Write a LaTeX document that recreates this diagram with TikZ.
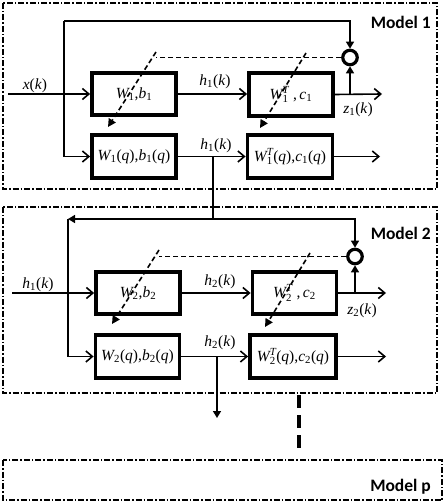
\documentclass[tikz,border=0pt]{standalone}
\usepackage{amsmath}
\usepackage{fontspec}
\setmainfont{Liberation Serif}
\newfontfamily\lblfont{Carlito}
\usetikzlibrary{arrows.meta}
\newcommand\mi[1]{\text{\itshape #1}}
\newcommand\mr[1]{\text{#1}}
\newcommand\pk[1]{\text{(\textit{#1})}}
\begin{document}
\begin{tikzpicture}[x=1pt,y=-1pt,
  frame/.style={draw, line width=1.2pt, dash pattern=on 6pt off 2pt on 1.5pt off 2pt},
  blk/.style={draw, line width=3.8pt, minimum width=84pt, minimum height=42.5pt, inner sep=0pt, font=\fontsize{15.5}{17}\selectfont},
  ln/.style={line width=1.6pt},
  oarr/.style={ln, -{Straight Barb[length=6.5pt,width=11pt,line width=1.6pt]}},
  farr/.style={ln, -{Triangle[length=7pt,width=8pt]}},
  dsh/.style={line width=1.6pt, dash pattern=on 5pt off 3pt},
  dsharr/.style={dsh, -{Triangle[length=8pt,width=8pt]}},
  sumc/.style={circle, draw, line width=3.2pt, minimum size=14.5pt, inner sep=0pt},
  lbl/.style={font=\fontsize{15.5}{17}\selectfont, inner sep=0pt},
  mlbl/.style={font=\lblfont\bfseries\fontsize{17.5}{20}\selectfont, anchor=east, inner sep=0pt}
]
\useasboundingbox (0,0) rectangle (444,502);

% frames
\draw[frame] (3,3) rectangle (437,189);
\draw[frame] (3,207) rectangle (437,393);
\draw[frame] (3,460) rectangle (442,500);
\node[mlbl] (M1) at (431,22) {Model 1};
\node[mlbl] (M2) at (431,233) {Model 2};
\node[mlbl] (Mp) at (431,487) {Model p};

% ---------- Model 1 ----------
\node[blk] (A1) at (134,94) {$\mi{W}_{\mr1}\mr{,}\mi{b}_{\mr1}$};
\node[blk] (B1) at (291,94.5) {$\mi{W}_{\mr1}^{\mi{T}}\mr{ ,\,}\mi{c}_{\mr1}$};
\node[blk] (C1) at (134,156.5) {$\mi{W}_{\mr1}\pk{q}\mr{,}\mi{b}_{\mr1}\pk{q}$};
\node[blk, minimum width=85pt] (D1) at (290,156.5) {$\mi{W}_{\mr1}^{\mi{T}}\pk{q}\mr{,}\mi{c}_{\mr1}\pk{q}$};
\node[sumc] (S1) at (350,57.5) {};

\coordinate (in1) at (8,94);
\coordinate (t1) at (64,21);
\coordinate (o1) at (382,94);
\coordinate (o1b) at (380,156.5);
\coordinate (dA1) at (156,52);
\coordinate (eA1) at (108,127);
\coordinate (dB1) at (306,53);
\coordinate (eB1) at (260,128);
\coordinate (h1) at (213,219);

\draw[oarr] (in1) -- (A1.west);
\draw[oarr] (t1) |- (C1.west);
\draw[farr] (t1) -| (S1.north);
\draw[oarr] (A1.east) -- (A1.east -| B1.west);
\draw[oarr] (B1.east) -- (o1);
\draw[farr] (S1 |- B1.east) -- (S1.south);
\draw[dsh] (S1.west) -- (S1.west -| dA1);
\draw[dsharr] (dA1) -- (eA1);
\draw[dsharr] (dB1) -- (eB1);
\draw[oarr] (C1.east) -- (C1.east -| D1.west);
\draw[oarr] (D1.east) -- (o1b);
\draw[ln] (C1.east -| h1) -- (h1);

\node[lbl] (lx) at (35,86) {$\mi{x}\pk{k}$};
\node[lbl] (lh1a) at (215,82) {$\mi{h}_{\mr1}\pk{k}$};
\node[lbl] (lz1) at (358,110) {$\mi{z}_{\mr1}\pk{k}$};
\node[lbl] (lh1b) at (216,146) {$\mi{h}_{\mr1}\pk{k}$};

% ---------- Model 2 ----------
\node[blk] (A2) at (138,293) {$\mi{W}_{\mr2}\mr{,}\mi{b}_{\mr2}$};
\node[blk] (B2) at (294.5,293) {$\mi{W}_{\mr2}^{\mi{T}}\mr{ ,\,}\mi{c}_{\mr2}$};
\node[blk] (C2) at (137.5,356.5) {$\mi{W}_{\mr2}\pk{q}\mr{,}\mi{b}_{\mr2}\pk{q}$};
\node[blk, minimum width=86pt] (D2) at (293,356.5) {$\mi{W}_{\mr2}^{\mi{T}}\pk{q}\mr{,}\mi{c}_{\mr2}\pk{q}$};
\node[sumc] (S2) at (355,256.5) {};

\coordinate (in2) at (12,293);
\coordinate (t2) at (68,219);
\coordinate (o2) at (386,293);
\coordinate (o2b) at (386,356.5);
\coordinate (dA2) at (159,250);
\coordinate (eA2) at (112,324);
\coordinate (dB2) at (310,253);
\coordinate (eB2) at (265,327);
\coordinate (h2) at (217,418);
\coordinate (p1) at (299,395);
\coordinate (p2) at (299,452);

\draw[farr] (h1) -- (t2);
\draw[oarr] (t2) |- (C2.west);
\draw[farr] (h1) -| (S2.north);
\draw[oarr] (in2) -- (A2.west);
\draw[oarr] (A2.east) -- (A2.east -| B2.west);
\draw[oarr] (B2.east) -- (o2);
\draw[farr] (S2 |- B2.east) -- (S2.south);
\draw[dsh] (S2.west) -- (S2.west -| dA2);
\draw[dsharr] (dA2) -- (eA2);
\draw[dsharr] (dB2) -- (eB2);
\draw[oarr] (C2.east) -- (C2.east -| D2.west);
\draw[oarr] (D2.east) -- (o2b);
\draw[farr] (C2.east -| h2) -- (h2);
\draw[line width=4pt, dash pattern=on 13pt off 7pt] (p1) -- (p2);

\node[lbl] (lh1c) at (38,285) {$\mi{h}_{\mr1}\pk{k}$};
\node[lbl] (lh2a) at (220,282) {$\mi{h}_{\mr2}\pk{k}$};
\node[lbl] (lz2) at (362,311) {$\mi{z}_{\mr2}\pk{k}$};
\node[lbl] (lh2b) at (220,343) {$\mi{h}_{\mr2}\pk{k}$};
\end{tikzpicture}
\end{document}
